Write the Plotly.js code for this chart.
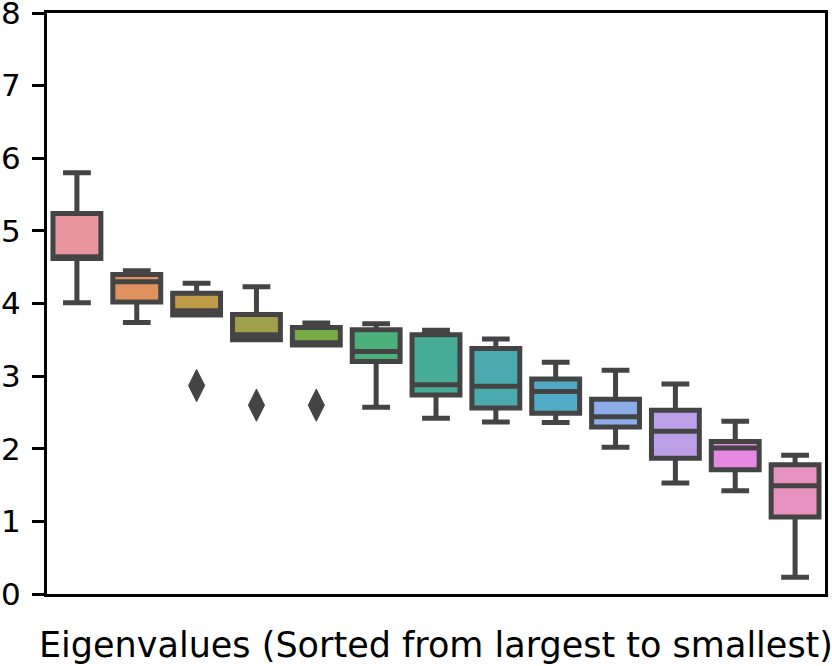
<!DOCTYPE html>
<html>
<head>
<meta charset="utf-8">
<script src="https://cdn.plot.ly/plotly-3.0.1.min.js"></script>
<style>html,body{margin:0;padding:0;background:#fff;}#chart{width:832px;height:666px;}</style>
</head>
<body>
<div id="chart"></div>
<script>
// Eigenvalue index categories (sorted largest to smallest)
const categories = ["1","2","3","4","5","6","7","8","9","10","11","12","13"];
const lowerFence = [4.01, 3.74, 3.84, 3.50, 3.43, 2.57, 2.42, 2.37, 2.36, 2.02, 1.53, 1.42, 0.23];
const q1Values   = [4.62, 4.02, 3.84, 3.50, 3.43, 3.20, 2.74, 2.56, 2.49, 2.30, 1.87, 1.71, 1.06];
const medians    = [4.645,4.30, 3.90, 3.57, 3.46, 3.34, 2.88, 2.86, 2.79, 2.44, 2.24, 2.01, 1.49];
const q3Values   = [5.24, 4.40, 4.14, 3.85, 3.67, 3.64, 3.57, 3.38, 2.96, 2.68, 2.53, 2.10, 1.78];
const upperFence = [5.80, 4.45, 4.28, 4.23, 3.73, 3.72, 3.63, 3.51, 3.19, 3.08, 2.89, 2.38, 1.91];
const boxColors  = ["#e8959f","#e0925e","#c09b48","#a0a04a","#78aa48","#4bb07a","#48ad98",
                    "#4aaaad","#50aac8","#8dadea","#bba0e9","#e688e4","#e693c0"];
// Outliers (fliers)
const outlierX = ["3","4","5"];
const outlierY = [2.87, 2.60, 2.60];

const edge = "#444444";
const traces = categories.map((c, i) => ({
  type: "box",
  x: [c],
  q1: [q1Values[i]],
  median: [medians[i]],
  q3: [q3Values[i]],
  lowerfence: [lowerFence[i]],
  upperfence: [upperFence[i]],
  width: 0.8,
  whiskerwidth: 0.58,
  fillcolor: boxColors[i],
  line: {color: edge, width: 5},
  boxpoints: false,
  showlegend: false,
  hoverinfo: "y"
}));
traces.push({
  type: "scatter",
  mode: "markers",
  x: outlierX,
  y: outlierY,
  marker: {symbol: "diamond-tall", size: 23, color: edge, line: {color: edge, width: 1}},
  showlegend: false
});

const layout = {
  width: 832,
  height: 666,
  margin: {l: 47, r: 7, t: 13, b: 72},
  paper_bgcolor: "#ffffff",
  plot_bgcolor: "#ffffff",
  font: {family: "DejaVu Sans", color: "#000000"},
  boxmode: "overlay",
  xaxis: {
    type: "category",
    categoryorder: "array",
    categoryarray: categories,
    range: [-0.5, 12.5],
    showline: true, mirror: true, linecolor: "#000000", linewidth: 3,
    showgrid: false, zeroline: false, ticks: "", showticklabels: false,
    automargin: false,
    title: {text: "Eigenvalues (Sorted from largest to smallest)", font: {size: 35, family: "DejaVu Sans", color: "#000"}, standoff: 37}
  },
  yaxis: {
    range: [0, 8], dtick: 1, tick0: 0,
    showline: true, mirror: true, linecolor: "#000000", linewidth: 3,
    showgrid: false, zeroline: false,
    ticks: "outside", ticklen: 12, tickwidth: 3, tickcolor: "#000000",
    ticklabelstandoff: 5,
    ticklabeloverflow: "allow",
    tickfont: {size: 31, family: "DejaVu Sans", color: "#000"},
    automargin: false
  }
};

Plotly.newPlot("chart", traces, layout, {staticPlot: true});
</script>
</body>
</html>
